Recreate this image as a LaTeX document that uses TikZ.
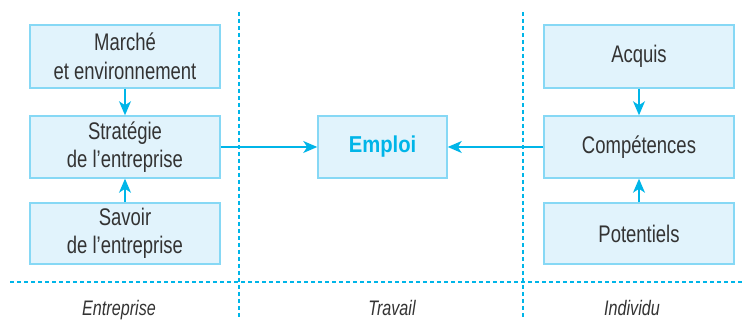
\documentclass[tikz,border=0pt]{standalone}
\usepackage{fontspec}
\setmainfont{Liberation Sans}[FakeStretch=0.77]
\newfontfamily\emploifont{Liberation Sans}[FakeStretch=0.88]
\usetikzlibrary{arrows.meta}
\definecolor{boxfill}{HTML}{E1F3FC}
\definecolor{boxline}{HTML}{86D8F5}
\definecolor{linkcol}{HTML}{00B5E8}
\definecolor{txtcol}{HTML}{333333}
\tikzset{
  x=1pt, y=1pt,
  box/.style={draw=boxline, fill=boxfill, line width=1.5pt, inner sep=0pt,
    minimum width=190pt, minimum height=62pt, align=center, text=txtcol,
    font=\fontsize{24}{28.5}\selectfont},
  link/.style={draw=linkcol, line width=1.3pt,
    -{Stealth[length=14pt,width=12pt,inset=4pt]}},
  sep/.style={draw=linkcol, line width=1.3pt, dash pattern=on 4pt off 3pt},
  zone/.style={text=txtcol, font=\fontsize{21}{24}\selectfont\itshape, anchor=base}
}
\begin{document}
\begin{tikzpicture}
\useasboundingbox (0,0) rectangle (745,320);
% column separators
\draw[sep] (239,308) -- (239,0);
\draw[sep] (523,308) -- (523,0);
\draw[sep] (10,38) -- (745,38);
% Entreprise column
\node[box, minimum height=63pt] (marche) at (125,263.5) {Marché\\et environnement};
\node[box] (strategie) at (125,173) {Stratégie\\de l’entreprise};
\node[box, minimum height=61pt] (savoir) at (125,86.5) {Savoir\\de l’entreprise};
% Travail column
\node[box, minimum width=129pt, text=linkcol, font=\emploifont\fontsize{23}{28}\selectfont\bfseries] (emploi) at (382.5,173) {Emploi};
% Individu column
\node[box, minimum height=63pt] (acquis) at (639,263.5) {Acquis};
\node[box] (competences) at (639,173) {Compétences};
\node[box, minimum height=61pt] (potentiels) at (639,86.5) {Potentiels};
% links
\draw[link] (marche) -- (strategie);
\draw[link] (savoir) -- (strategie);
\draw[link] (strategie) -- (emploi);
\draw[link] (acquis) -- (competences);
\draw[link] (potentiels) -- (competences);
\draw[link] (competences) -- (emploi);
% column titles
\node[zone] (zentreprise) at (119,4) {Entreprise};
\node[zone] (ztravail) at (392,4) {Travail};
\node[zone] (zindividu) at (632,4) {Individu};
\end{tikzpicture}
\end{document}
